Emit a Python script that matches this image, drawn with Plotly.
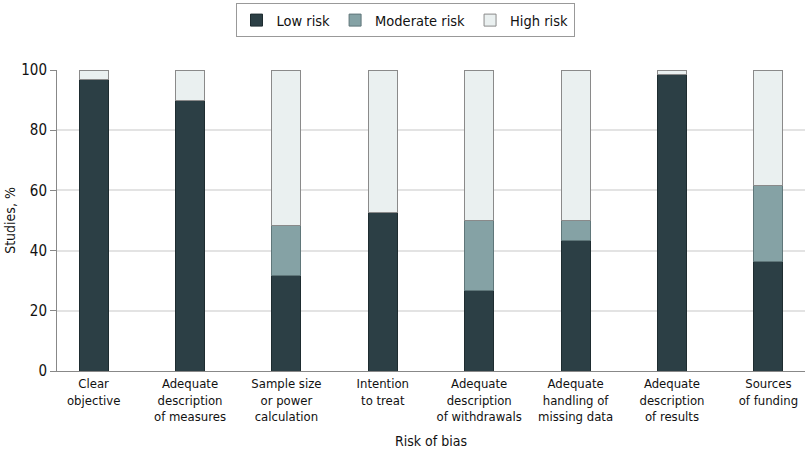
import plotly.graph_objects as go

categories = ["Clear<br>objective", "Adequate<br>description<br>of measures", "Sample size<br>or power<br>calculation",
              "Intention<br>to treat", "Adequate<br>description<br>of withdrawals", "Adequate<br>handling of<br>missing data",
              "Adequate<br>description<br>of results", "Sources<br>of funding"]
low = [96.7, 90.0, 31.6, 52.6, 26.7, 43.3, 98.4, 36.5]
moderate = [0.0, 0.0, 16.7, 0.0, 23.3, 6.7, 0.0, 25.1]
high = [round(100 - a - b, 1) for a, b in zip(low, moderate)]

FONT = "DejaVu Sans Condensed, Roboto, sans-serif"

fig = go.Figure()
fig.add_bar(x=categories, y=low, name="Low risk", width=0.3,
            marker=dict(color="#2C3F45", line=dict(color="#1E2C30", width=1)))
fig.add_bar(x=categories, y=moderate, name="Moderate risk", width=0.3,
            marker=dict(color="#85A2A5", line=dict(color="#5F7679", width=1)))
fig.add_bar(x=categories, y=high, name="High risk", width=0.3,
            marker=dict(color="#EAF0F0", line=dict(color="#8A8A8A", width=1)))

fig.update_layout(
    barmode="stack",
    width=810, height=454,
    margin=dict(l=57, r=5, t=70, b=83, autoexpand=False),
    plot_bgcolor="white", paper_bgcolor="white",
    font=dict(family=FONT, size=13, color="#111"),
    legend=dict(orientation="h", x=0.5, xanchor="center", xref="container",
                y=0.993, yanchor="top", yref="container",
                bordercolor="#999", borderwidth=1,
                font=dict(size=14.5), traceorder="normal"),
    showlegend=True,
)
fig.update_xaxes(range=[-0.38, 7.38], showline=True, linecolor="#888", linewidth=1,
                 ticks="", tickfont=dict(size=13), automargin=False,
                 title=dict(text="Risk of bias", font=dict(size=14), standoff=12))
fig.update_yaxes(range=[0, 100], dtick=20, showgrid=True, gridcolor="#E3E3E3", gridwidth=1.5,
                 showline=True, linecolor="#888", linewidth=1, ticks="outside", ticklen=6,
                 tickcolor="#888", tickfont=dict(size=15), zeroline=False, automargin=False,
                 title=dict(text="Studies, %", font=dict(size=14), standoff=2))

fig.write_html("out.html", config={"displayModeBar": False},
               post_script="document.body.style.margin='0';")
